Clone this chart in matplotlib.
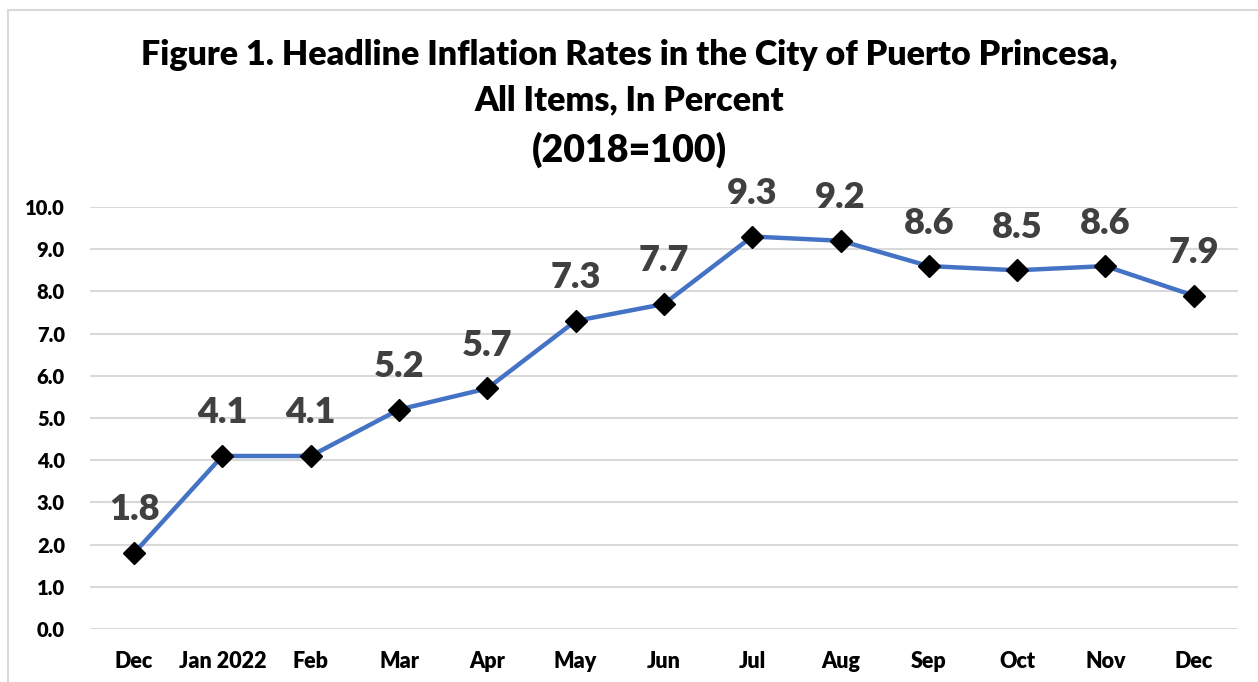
import matplotlib.pyplot as plt
from matplotlib.patches import Rectangle

months = ['Dec', 'Jan 2022', 'Feb', 'Mar', 'Apr', 'May', 'Jun',
          'Jul', 'Aug', 'Sep', 'Oct', 'Nov', 'Dec']
rates = [1.8, 4.1, 4.1, 5.2, 5.7, 7.3, 7.7, 9.3, 9.2, 8.6, 8.5, 8.6, 7.9]
yticks = [0, 1, 2, 3, 4, 5, 6, 7, 8, 9, 10]

plt.rcParams['font.family'] = ['Lato', 'DejaVu Sans']

fig = plt.figure(figsize=(12.58, 6.82), dpi=100)
ax = fig.add_axes([0.0715, 0.0777, 0.9125, 0.6188])

# chart border
fig.patches.append(Rectangle((8 / 1258, -0.01), 1.0, 1 - 10 / 682 + 0.01,
                             transform=fig.transFigure, fill=False,
                             edgecolor='#D9D9D9', linewidth=1.5))

x = list(range(len(months)))
ax.plot(x, rates, color='#4472C4', linewidth=3.2, marker='D',
        markersize=11, markerfacecolor='black', markeredgecolor='black',
        zorder=3)

for xi, v in zip(x, rates):
    ax.annotate(f'{v:.1f}', (xi, v), xytext=(0, 31), textcoords='offset points',
                ha='center', va='center', fontsize=26, fontweight='heavy',
                color='#404040')

ax.set_xlim(-0.5, len(months) - 0.5)
ax.set_ylim(0, 10)
ax.set_yticks(yticks)
ax.set_yticklabels([f'{t:.1f}' for t in yticks], fontsize=14.5, fontweight='heavy')
ax.set_xticks(x)
ax.set_xticklabels(months, fontsize=15.5, fontweight='heavy')
ax.tick_params(length=0, pad=16, axis='x')
ax.tick_params(length=0, pad=18, axis='y')
ax.grid(axis='y', color='#D9D9D9', linewidth=1.5)
ax.set_axisbelow(True)
for s in ax.spines.values():
    s.set_visible(False)

fig.text(0.5, 1 - 55 / 682, 'Figure 1. Headline Inflation Rates in the City of Puerto Princesa,',
         ha='center', va='center', fontsize=24.5, fontweight='heavy')
fig.text(0.5, 1 - 100 / 682, 'All Items, In Percent',
         ha='center', va='center', fontsize=24.5, fontweight='heavy')
fig.text(0.5, 1 - 150 / 682, '(2018=100)',
         ha='center', va='center', fontsize=27, fontweight='heavy')

fig.savefig('out.png', dpi=100)
